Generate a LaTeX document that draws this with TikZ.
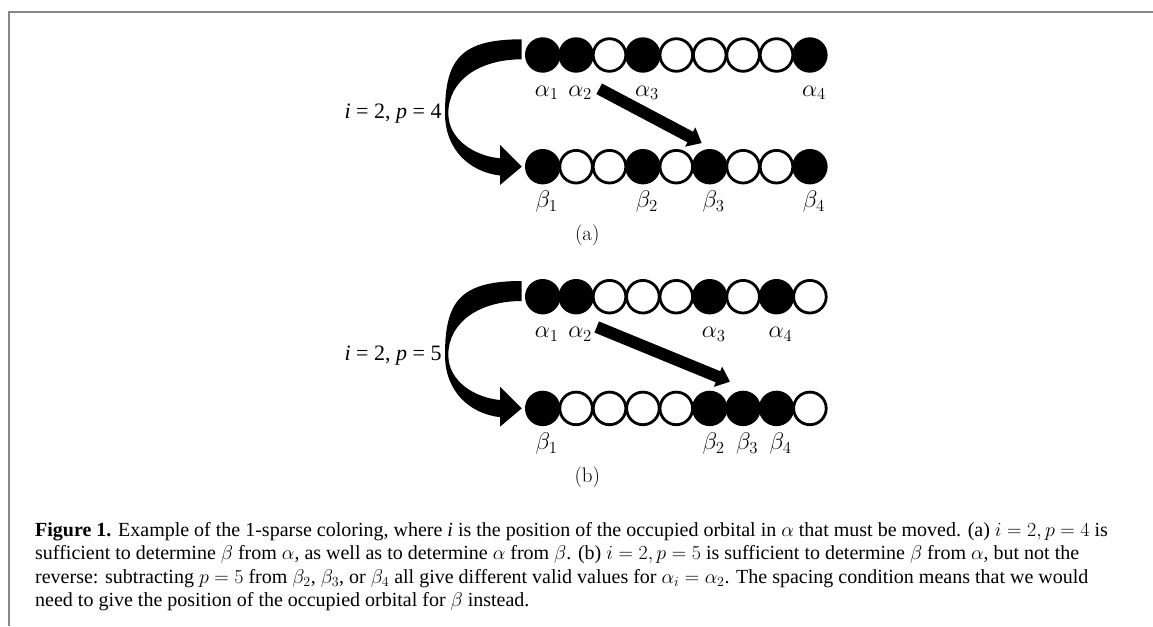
\RequirePackage{fix-cm}
\documentclass[tikz,border=0pt]{standalone}
\usepackage{fontspec}
\newfontfamily\capfont{Liberation Serif}
\usetikzlibrary{arrows.meta,calc}
\newcommand\orbrow[3]{%
  \foreach \c [count=\k] in {#3} {\node[orb,fill=\c] (#1-\k) at ({542.7+33.4*(\k-1)},#2) {};}}
\begin{document}
\begin{tikzpicture}[x=1pt,y=-1pt,
  orb/.style={circle,draw=black,line width=2.8pt,minimum size=32.6pt,inner sep=0pt,outer sep=0pt},
  glab/.style={anchor=base,inner sep=0pt,font=\fontsize{24}{28}\selectfont},
  plab/.style={anchor=base east,inner sep=0pt,font=\capfont\fontsize{22}{26}\selectfont},
  sublab/.style={anchor=center,inner sep=0pt,font=\fontsize{21}{25}\selectfont},
  capline/.style={anchor=base west,inner sep=0pt,font=\capfont\fontsize{20}{23.2}\selectfont},
  bigarrow/.style={line width=12pt,-{Triangle[length=13pt,width=21pt]}},
  frameline/.style={draw=black!47,line width=2pt},
  bigarc/.pic={
    \fill[black] (521.7,39.3) .. controls (460,39.3) and (445,60) .. (445,113.3)
      .. controls (445,150) and (470,172) .. (500,175.5)
      -- (500,185) -- (521.7,166.7) -- (500,145) -- (500,158.3)
      .. controls (475,156) and (448.3,140) .. (448.3,113.3)
      .. controls (448.3,80) and (480,59.3) .. (521.7,59.3) -- cycle;
  }
]
\useasboundingbox (0,0) rectangle (1153,626);
\coordinate (fb) at (9,626);
\coordinate (fc) at (9,12.3);
\coordinate (fr) at (1153,12.3);
\draw[frameline] (fb) -- (fc) -- (fr);

% ---------- panel (a)
\orbrow{At}{55}{black,black,white,black,white,white,white,white,black}
\orbrow{Ab}{166.7}{black,white,white,black,white,black,white,white,black}
\pic {bigarc};
\node[plab] (pa) at (441.7,118.3) {\textit{i} = 2, \textit{p} = 4};
\node[glab] (aa1) at ($(At-1)+(4,41)$) {$\alpha_1$};
\node[glab] (aa2) at ($(At-2)+(4,41)$) {$\alpha_2$};
\node[glab] (aa3) at ($(At-4)+(4,41)$) {$\alpha_3$};
\node[glab] (aa4) at ($(At-9)+(4,41)$) {$\alpha_4$};
\node[glab] (ba1) at ($(Ab-1)+(4,41)$) {$\beta_1$};
\node[glab] (ba2) at ($(Ab-4)+(4,41)$) {$\beta_2$};
\node[glab] (ba3) at ($(Ab-6)+(4,41)$) {$\beta_3$};
\node[glab] (ba4) at ($(Ab-9)+(4,41)$) {$\beta_4$};
\coordinate (ta) at (599.2,88.8);
\coordinate (ha) at (701.7,143.1);
\draw[bigarrow] (ta) -- (ha);
\node[sublab] (suba) at (587.3,235) {(a)};

% ---------- panel (b)
\orbrow{Bt}{296.7}{black,black,white,white,white,black,white,black,white}
\orbrow{Bb}{408.4}{black,white,white,white,white,black,black,black,white}
\pic at (0,241.7) {bigarc};
\node[plab] (pb) at (441.7,360) {\textit{i} = 2, \textit{p} = 5};
\node[glab] (ab1) at ($(Bt-1)+(4,41)$) {$\alpha_1$};
\node[glab] (ab2) at ($(Bt-2)+(4,41)$) {$\alpha_2$};
\node[glab] (ab3) at ($(Bt-6)+(4,41)$) {$\alpha_3$};
\node[glab] (ab4) at ($(Bt-8)+(4,41)$) {$\alpha_4$};
\node[glab] (bb1) at ($(Bb-1)+(4,41)$) {$\beta_1$};
\node[glab] (bb2) at ($(Bb-6)+(4,41)$) {$\beta_2$};
\node[glab] (bb3) at ($(Bb-7)+(4,41)$) {$\beta_3$};
\node[glab] (bb4) at ($(Bb-8)+(4,41)$) {$\beta_4$};
\coordinate (tb) at (596.7,327);
\coordinate (hb) at (730,381.7);
\draw[bigarrow] (tb) -- (hb);
\node[sublab] (subb) at (587.3,477) {(b)};

% ---------- caption
\node[capline] (c1) at (35,536.7) {\textbf{Figure 1.} Example of the 1-sparse coloring, where \textit{i} is the position of the occupied orbital in $\alpha$ that must be moved. (a) $i = 2, p = 4$ is};
\node[capline] (c2) at (35,559.9) {sufficient to determine $\beta$ from $\alpha$, as well as to determine $\alpha$ from $\beta$. (b) $i = 2, p = 5$ is sufficient to determine $\beta$ from $\alpha$, but not the};
\node[capline] (c3) at (35,583.1) {reverse: subtracting $p = 5$ from $\beta_2$, $\beta_3$, or $\beta_4$ all give different valid values for $\alpha_i = \alpha_2$. The spacing condition means that we would};
\node[capline] (c4) at (35,606.3) {need to give the position of the occupied orbital for $\beta$ instead.};
\end{tikzpicture}
\end{document}
